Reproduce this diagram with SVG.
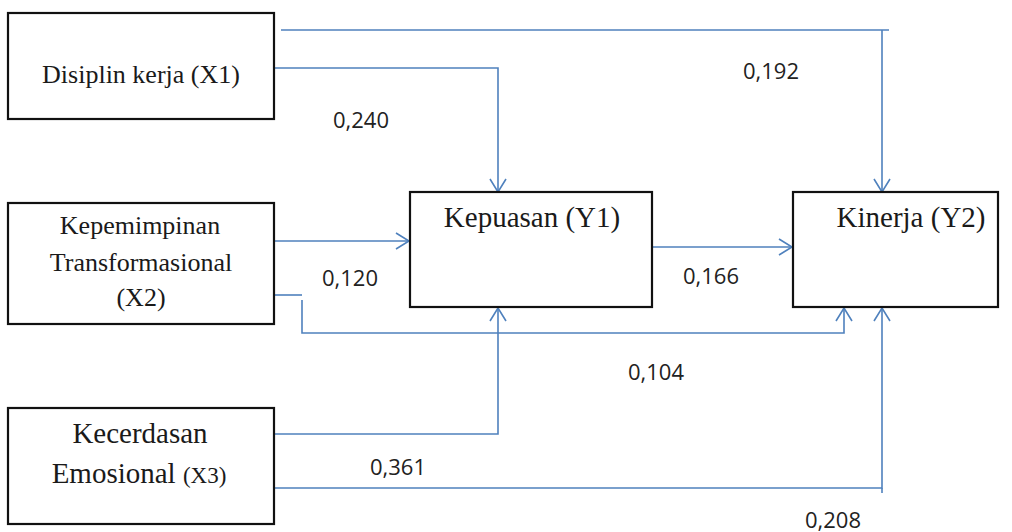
<svg xmlns="http://www.w3.org/2000/svg" width="1012" height="532" viewBox="0 0 1012 532">
<style>
.box{fill:#fff;stroke:#111;stroke-width:2.2}
.lbl{font-family:"Liberation Serif","Times New Roman",serif;fill:#1a1a1a;text-anchor:middle}
.num{font-family:"Open Sans","Liberation Sans",sans-serif;font-size:22px;fill:#222}
.c{fill:none;stroke:#4F81BD;stroke-width:1.6}
</style>
<defs>
<marker id="arr" markerUnits="userSpaceOnUse" viewBox="-15 -10 17 20" refX="0" refY="0" markerWidth="17" markerHeight="20" orient="auto">
<path d="M-13,-8 L0,0 L-13,8" fill="none" stroke="#4F81BD" stroke-width="1.6"/>
</marker>
</defs>
<rect width="1012" height="532" fill="#fff"/>
<g id="connectors">
<path class="c" d="M281,30 H889"/>
<path class="c" d="M882,30 V192" marker-end="url(#arr)"/>
<path class="c" d="M274,68 H498 V192" marker-end="url(#arr)"/>
<path class="c" d="M274,241 H409" marker-end="url(#arr)"/>
<path class="c" d="M274,295 H302"/>
<path class="c" d="M302,300 V333 H844 V308" marker-end="url(#arr)"/>
<path class="c" d="M274,434 H498 V308" marker-end="url(#arr)"/>
<path class="c" d="M274,488 H882 V308" marker-end="url(#arr)"/>
<path class="c" d="M882,488 V493"/>
<path class="c" d="M652,247 H792" marker-end="url(#arr)"/>
<text class="num" x="333" y="128">0,240</text>
<text class="num" x="743" y="79">0,192</text>
<text class="num" x="322" y="286">0,120</text>
<text class="num" x="683" y="284">0,166</text>
<text class="num" x="628" y="380">0,104</text>
<text class="num" x="370" y="475">0,361</text>
<text class="num" x="805" y="528">0,208</text>
</g>
<g id="x1">
<rect class="box" x="8" y="13" width="266" height="106"/>
<text class="lbl" x="141" y="83" font-size="26">Disiplin kerja (X1)</text>
</g>
<g id="x2">
<rect class="box" x="8" y="203" width="266" height="121"/>
<text class="lbl" x="140" y="234" font-size="26">Kepemimpinan</text>
<text class="lbl" x="141" y="271" font-size="26">Transformasional</text>
<text class="lbl" x="141" y="306" font-size="26">(X2)</text>
</g>
<g id="x3">
<rect class="box" x="8" y="408" width="266" height="116"/>
<text class="lbl" x="140" y="443" font-size="29">Kecerdasan</text>
<text class="lbl" x="139" y="483" font-size="29">Emosional <tspan font-size="23">(X3)</tspan></text>
</g>
<g id="y1">
<rect class="box" x="410" y="192" width="242" height="115"/>
<text class="lbl" x="532" y="227" font-size="29">Kepuasan (Y1)</text>
</g>
<g id="y2">
<rect class="box" x="793" y="192" width="205" height="115"/>
<text class="lbl" x="911" y="227" font-size="29">Kinerja (Y2)</text>
</g>
</svg>
